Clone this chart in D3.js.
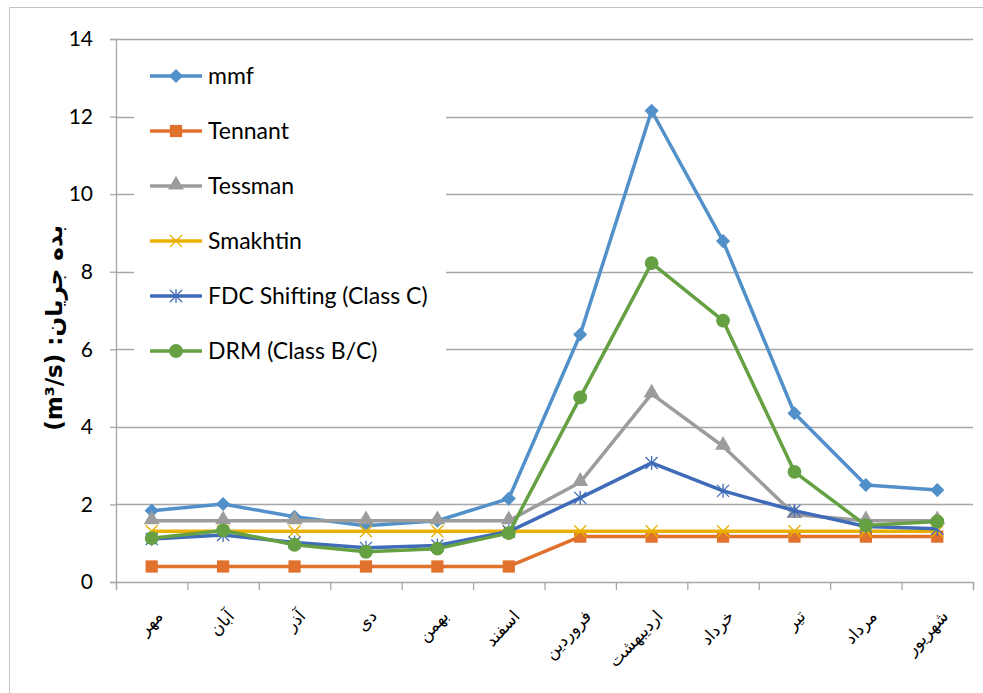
<!DOCTYPE html>
<html>
<head>
<meta charset="utf-8">
<script src="https://cdn.jsdelivr.net/npm/d3@7"></script>
<style>
  body { margin: 0; background: #fff; }
  svg { display: block; }
</style>
</head>
<body>
<div id="chart"></div>
<script>
// Months (Persian calendar)
var months = ["مهر", "آبان", "آذر", "دی", "بهمن", "اسفند", "فروردین", "اردیبهشت", "خرداد", "تیر", "مرداد", "شهریور"];

// Series values (m3/s)
var mmf = [1.84, 2.01, 1.68, 1.45, 1.58, 2.15, 6.38, 12.15, 8.79, 4.35, 2.5, 2.37];
var tennant = [0.4, 0.4, 0.4, 0.4, 0.4, 0.4, 1.17, 1.17, 1.17, 1.17, 1.17, 1.17];
var tessman = [1.58, 1.58, 1.58, 1.58, 1.58, 1.58, 2.57, 4.85, 3.5, 1.74, 1.58, 1.58];
var smakhtin = [1.31, 1.31, 1.31, 1.31, 1.31, 1.31, 1.31, 1.31, 1.31, 1.31, 1.31, 1.31];
var fdcShifting = [1.11, 1.21, 1.02, 0.88, 0.94, 1.3, 2.17, 3.07, 2.35, 1.84, 1.43, 1.37];
var drm = [1.13, 1.33, 0.96, 0.78, 0.86, 1.26, 4.76, 8.22, 6.74, 2.84, 1.46, 1.56];

var seriesNames = ["mmf", "Tennant", "Tessman", "Smakhtin", "FDC Shifting (Class C)", "DRM (Class B/C)"];
var yTicks = [0, 2, 4, 6, 8, 10, 12, 14];

var series = [
  { name: seriesNames[0], values: mmf, color: "#5190c9", symbol: "diamond" },
  { name: seriesNames[1], values: tennant, color: "#e0722d", symbol: "square" },
  { name: seriesNames[2], values: tessman, color: "#9c9c9c", symbol: "triangle" },
  { name: seriesNames[3], values: smakhtin, color: "#e9b000", symbol: "x" },
  { name: seriesNames[4], values: fdcShifting, color: "#3f6bb8", symbol: "star" },
  { name: seriesNames[5], values: drm, color: "#65a042", symbol: "circle" }
];

var W = 983, H = 693;
var margin = { top: 39, right: 10, bottom: 111, left: 116 },
  width = 973 - margin.left,
  height = 582 - margin.top;

var svg = d3
  .select("#chart")
  .append("svg")
  .attr("width", W)
  .attr("height", H);

// outer chart border
svg
  .append("path")
  .attr("d", "M9.5," + H + "V7.5H" + W)
  .attr("fill", "none")
  .attr("stroke", "#c4c4c4")
  .attr("stroke-width", 1);

var g = svg.append("g").attr("transform", "translate(" + margin.left + "," + margin.top + ")");

var x = d3.scaleBand().domain(months).range([0, width]);
var y = d3.scaleLinear().domain([0, 14]).range([height, 0]);

// gridlines
g.append("g")
  .selectAll("line")
  .data(yTicks.slice(1))
  .enter()
  .append("line")
  .attr("x1", 0)
  .attr("x2", width)
  .attr("y1", function (d) { return Math.round(y(d)) + 0.5; })
  .attr("y2", function (d) { return Math.round(y(d)) + 0.5; })
  .attr("stroke", "#a6a6a6")
  .attr("stroke-width", 1.3);

// y axis
var yAxis = g
  .append("g")
  .call(d3.axisLeft(y).tickValues(yTicks).tickSize(6).tickPadding(17).tickFormat(d3.format("d")));
yAxis.select(".domain").attr("stroke", "#a6a6a6").attr("stroke-width", 1.3);
yAxis.selectAll(".tick line").attr("stroke", "#a6a6a6").attr("stroke-width", 1.3);
yAxis.selectAll(".tick text")
  .attr("font-family", "Lato, 'Open Sans', sans-serif")
  .attr("font-size", 21)
  .attr("fill", "#000");

// x axis
var xAxis = g
  .append("g")
  .attr("transform", "translate(0," + height + ")")
  .call(d3.axisBottom(x).tickSize(8).tickFormat(""));
xAxis.select(".domain").attr("stroke", "#a6a6a6").attr("stroke-width", 1.3);
xAxis.selectAll(".tick line").remove();
xAxis
  .selectAll(".sep")
  .data(months.concat(["end"]))
  .enter()
  .append("line")
  .attr("x1", function (d, i) { return i * x.bandwidth() + 0.5; })
  .attr("x2", function (d, i) { return i * x.bandwidth() + 0.5; })
  .attr("y1", 0)
  .attr("y2", 8)
  .attr("stroke", "#a6a6a6")
  .attr("stroke-width", 1.3);

xAxis
  .selectAll(".mlabel")
  .data(months)
  .enter()
  .append("text")
  .attr("transform", function (d) {
    return "translate(" + (x(d) + x.bandwidth() / 2 + 12) + ",35) rotate(-47)";
  })
  .attr("text-anchor", "end")
  .attr("font-family", "'DejaVu Sans', sans-serif")
  .attr("font-size", 17)
  .attr("fill", "#000")
  .text(function (d) { return d; });

// y axis title
svg
  .append("text")
  .attr("transform", "translate(62,328) rotate(-90)")
  .attr("text-anchor", "middle")
  .attr("direction", "rtl")
  .attr("font-family", "'DejaVu Sans', sans-serif")
  .attr("font-weight", "bold")
  .attr("font-size", 23)
  .attr("fill", "#000")
  .text("بده جریان: \u2066(m³/s)\u2069");

// symbols
function symbolPath(type) {
  if (type === "diamond") return d3.symbol().type(d3.symbolSquare).size(100)();
  if (type === "square") return d3.symbol().type(d3.symbolSquare).size(150)();
  if (type === "triangle") return d3.symbol().type(d3.symbolTriangle).size(110)();
  if (type === "circle") return d3.symbol().type(d3.symbolCircle).size(150)();
  if (type === "x") return "M-6,-6L6,6M-6,6L6,-6";
  if (type === "star") return "M-6,-6L6,6M-6,6L6,-6M0,-7V7";
  return "";
}
function drawMarker(sel, s) {
  var p = sel.append("path").attr("d", symbolPath(s.symbol));
  if (s.symbol === "x" || s.symbol === "star") {
    p.attr("fill", "none").attr("stroke", s.color).attr("stroke-width", 1.3);
  } else {
    p.attr("fill", s.color);
  }
  if (s.symbol === "diamond") p.attr("transform", "rotate(45)");
  if (s.symbol === "triangle") p.attr("transform", "translate(0,-1)");
  return p;
}

var line = d3
  .line()
  .x(function (d, i) { return x(months[i]) + x.bandwidth() / 2; })
  .y(function (d) { return y(d); });

series.forEach(function (s) {
  var sg = g.append("g");
  sg.append("path")
    .datum(s.values)
    .attr("fill", "none")
    .attr("stroke", s.color)
    .attr("stroke-width", 3.5)
    .attr("stroke-linejoin", "round")
    .attr("d", line);
  s.values.forEach(function (v, i) {
    var m = sg.append("g").attr("transform", "translate(" + (x(months[i]) + x.bandwidth() / 2) + "," + y(v) + ")");
    drawMarker(m, s);
  });
});

// legend
var legend = svg.append("g").attr("transform", "translate(134,50)");
legend
  .append("rect")
  .attr("x", 0)
  .attr("y", 0)
  .attr("width", 312)
  .attr("height", 320)
  .attr("fill", "#fff");

series.forEach(function (s, i) {
  var ly = 26 + i * 55;
  var lg = legend.append("g").attr("transform", "translate(0," + ly + ")");
  lg.append("line")
    .attr("x1", 16)
    .attr("x2", 68)
    .attr("y1", 0)
    .attr("y2", 0)
    .attr("stroke", s.color)
    .attr("stroke-width", 3.5);
  var m = lg.append("g").attr("transform", "translate(42,0)");
  drawMarker(m, s);
  lg.append("text")
    .attr("x", 74)
    .attr("y", 0)
    .attr("dy", "0.35em")
    .attr("font-family", "Lato, 'Open Sans', sans-serif")
    .attr("font-size", 23)
    .attr("fill", "#000")
    .text(s.name);
});
</script>
</body>
</html>
